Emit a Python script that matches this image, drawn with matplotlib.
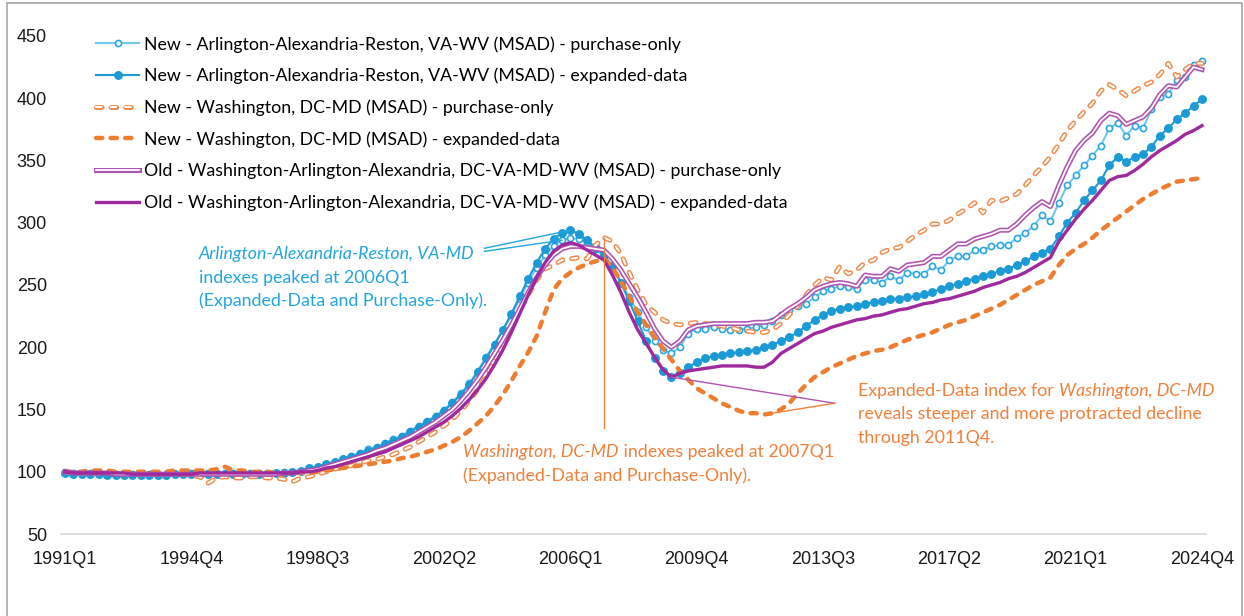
import numpy as np
import matplotlib.pyplot as plt
from matplotlib.lines import Line2D
from matplotlib.patches import Rectangle

plt.rcParams['lines.scale_dashes'] = False

# quarterly index values, 1991Q1 .. 2024Q4
arl_po = [100, 99, 99, 99, 99, 98, 98, 98, 98, 98,
          98, 98, 98, 98, 99, 99, 99, 99, 99, 99,
          99, 99, 99, 99, 99, 99, 100, 100, 101, 103,
          104, 106, 108, 110, 113, 115, 118, 120, 123, 126,
          129, 133, 137, 141, 145, 150, 156, 163, 171, 181,
          192, 203, 214, 226, 239, 252, 264, 274, 281, 286,
          288, 287, 284, 279, 273, 264, 252, 240, 228, 216,
          205, 198, 195, 200, 211, 215, 215, 216, 215, 214,
          214, 215, 216, 218, 221, 226, 230, 233, 235, 240,
          245, 247, 249, 248, 247, 254, 254, 252, 257, 254,
          260, 259, 259, 265, 262, 270, 273, 273, 278, 278,
          281, 282, 282, 288, 292, 297, 306, 301, 316, 330,
          338, 346, 354, 362, 376, 380, 370, 378, 376, 391,
          401, 403, 415, 417, 427, 430]

arl_ed = [99, 98, 98, 98, 98, 97, 97, 97, 97, 97,
          97, 97, 97, 98, 98, 98, 98, 98, 98, 98,
          98, 98, 98, 98, 98, 99, 99, 100, 101, 103,
          104, 106, 108, 110, 112, 114, 117, 119, 122, 125,
          128, 132, 136, 140, 144, 149, 155, 162, 170, 180,
          191, 202, 214, 227, 241, 255, 268, 279, 287, 292,
          294, 291, 286, 280, 274, 265, 252, 237, 221, 205,
          191, 181, 176, 179, 184, 188, 191, 193, 194, 195,
          196, 197, 198, 200, 202, 205, 208, 212, 217, 222,
          226, 229, 231, 232, 233, 235, 236, 237, 239, 239,
          240, 241, 243, 244, 247, 249, 251, 253, 255, 257,
          259, 261, 263, 266, 269, 273, 276, 279, 289, 300,
          308, 318, 326, 334, 346, 353, 349, 353, 355, 361,
          370, 376, 383, 388, 394, 399]

dc_po = [100, 99, 99, 99, 99, 99, 99, 99, 98, 98,
         98, 98, 98, 99, 98, 97, 96, 91, 95, 96,
         95, 95, 96, 96, 95, 95, 94, 92, 95, 96,
         98, 100, 102, 104, 105, 107, 109, 110, 112, 114,
         117, 120, 124, 128, 132, 137, 142, 149, 157, 166,
         177, 189, 202, 216, 230, 242, 254, 263, 266, 270,
         271, 272, 271, 282, 288, 285, 275, 260, 246, 234,
         228, 222, 219, 218, 219, 220, 219, 218, 217, 216,
         214, 213, 212, 212, 214, 219, 226, 233, 242, 250,
         256, 254, 265, 259, 262, 268, 270, 276, 279, 280,
         285, 290, 294, 299, 299, 302, 307, 311, 316, 308,
         318, 317, 320, 323, 330, 338, 345, 353, 363, 374,
         382, 389, 396, 406, 411, 407, 402, 406, 410, 413,
         419, 428, 417, 423, 428, 428]

dc_ed = [100, 100, 100, 101, 101, 101, 100, 100, 100, 100,
         100, 100, 100, 101, 101, 101, 101, 101, 102, 104,
         101, 101, 100, 100, 100, 99, 99, 99, 99, 99,
         100, 101, 102, 103, 104, 105, 106, 107, 108, 109,
         111, 112, 114, 116, 118, 121, 124, 128, 133, 139,
         145, 153, 162, 173, 185, 196, 209, 228, 246, 255,
         260, 264, 267, 269, 271, 264, 253, 241, 228, 218,
         208, 199, 190, 181, 174, 167, 163, 159, 155, 152,
         149, 147, 147, 146, 147, 150, 155, 163, 170, 176,
         180, 184, 187, 190, 193, 195, 197, 198, 200, 203,
         206, 208, 210, 212, 215, 218, 220, 222, 225, 228,
         231, 234, 238, 242, 246, 250, 253, 256, 266, 274,
         279, 283, 288, 294, 299, 304, 309, 314, 319, 323,
         327, 330, 333, 334, 335, 336]

old_po = [100, 99, 99, 99, 99, 99, 98, 98, 98, 98,
          98, 98, 98, 98, 98, 98, 98, 98, 98, 98,
          98, 98, 98, 98, 98, 98, 99, 99, 100, 101,
          102, 104, 106, 108, 110, 112, 114, 117, 119, 122,
          125, 128, 132, 136, 140, 145, 150, 157, 165, 174,
          184, 195, 206, 218, 231, 244, 256, 266, 274, 279,
          281, 281, 280, 279, 278, 271, 262, 251, 240, 228,
          215, 205, 200, 205, 214, 217, 218, 219, 219, 219,
          219, 219, 220, 220, 221, 226, 231, 235, 240, 246,
          249, 251, 252, 251, 249, 258, 257, 257, 263, 261,
          266, 267, 268, 273, 273, 278, 283, 283, 287, 289,
          291, 294, 294, 299, 306, 312, 317, 313, 330, 345,
          358, 366, 372, 382, 388, 386, 379, 382, 385, 392,
          403, 410, 409, 417, 425, 423]

old_ed = [100, 99, 99, 99, 99, 99, 99, 99, 98, 98,
          98, 98, 98, 98, 98, 98, 99, 99, 99, 99,
          99, 99, 99, 99, 99, 99, 99, 99, 100, 100,
          101, 103, 104, 106, 108, 110, 112, 114, 116, 119,
          122, 125, 128, 132, 136, 140, 145, 151, 158, 166,
          175, 186, 198, 212, 227, 242, 256, 268, 277, 282,
          284, 282, 278, 274, 270, 258, 244, 228, 214, 203,
          192, 182, 176, 179, 181, 182, 183, 184, 185, 185,
          185, 185, 184, 184, 188, 195, 199, 203, 207, 211,
          213, 216, 218, 220, 222, 223, 225, 226, 228, 230,
          231, 233, 235, 236, 238, 239, 241, 243, 245, 248,
          250, 252, 255, 257, 260, 264, 268, 272, 285, 294,
          303, 311, 318, 326, 334, 337, 338, 342, 347, 353,
          358, 362, 366, 371, 374, 378]

tick_labels = ['1991Q1', '1994Q4', '1998Q3', '2002Q2', '2006Q1',
               '2009Q4', '2013Q3', '2017Q2', '2021Q1', '2024Q4']

labels = ['New - Arlington-Alexandria-Reston, VA-WV (MSAD) - purchase-only',
          'New - Arlington-Alexandria-Reston, VA-WV (MSAD) - expanded-data',
          'New - Washington, DC-MD (MSAD) - purchase-only',
          'New - Washington, DC-MD (MSAD) - expanded-data',
          'Old - Washington-Arlington-Alexandria, DC-VA-MD-WV (MSAD) - purchase-only',
          'Old - Washington-Arlington-Alexandria, DC-VA-MD-WV (MSAD) - expanded-data']

LIGHTBLUE = '#72C7EE'
BLUE = '#1B9AD6'
ORANGE = '#ED7D31'
ORANGE_LT = '#F08A4B'
PURPLE = '#9E2A9E'
PURPLE_LT = '#B052B0'
TXT_BLUE = '#22A5E0'
TXT_ORANGE = '#F0803A'
FONT = 'Lato'
FS = 12.8

x = np.arange(len(arl_po))

fig = plt.figure(figsize=(12.44, 6.16), dpi=100)
ax = fig.add_axes([0.0489, 0.1331, 0.9207, 0.8085])

# series, in excel order (first at bottom)
l1, = ax.plot(x, arl_po, color=LIGHTBLUE, lw=1.5, marker='o', ms=4.4,
              mfc='white', mec='#2AA7E2', mew=1.2, zorder=2)
l2, = ax.plot(x, arl_ed, color=BLUE, lw=1.5, marker='o', ms=5.4,
              mfc=BLUE, mec=BLUE, zorder=3)
dash_po = (4, 6.5)
l3a, = ax.plot(x, dc_po, color=ORANGE_LT, lw=3.6, dashes=dash_po,
               dash_capstyle='round', zorder=4)
l3b, = ax.plot(x, dc_po, color='white', lw=1.5, dashes=dash_po,
               dash_capstyle='round', zorder=4)
l4, = ax.plot(x, dc_ed, color=ORANGE, lw=3.2, dashes=(4.5, 6),
              dash_capstyle='round', zorder=5)
l5a, = ax.plot(x, old_po, color=PURPLE_LT, lw=3.6, solid_joinstyle='round', zorder=6)
l5b, = ax.plot(x, old_po, color='white', lw=1.3, solid_joinstyle='round', zorder=6)
l6, = ax.plot(x, old_ed, color=PURPLE, lw=2.4, solid_joinstyle='round', zorder=7)

ax.set_xlim(-0.5, len(x) - 0.5)
ax.set_ylim(50, 450)
ax.set_yticks(np.arange(50, 451, 50))
ax.set_xticks(np.arange(0, len(x), 15))
ax.set_xticklabels(tick_labels)
for s in ['top', 'right', 'left']:
    ax.spines[s].set_visible(False)
ax.spines['bottom'].set_color('#D9D9D9')
ax.spines['bottom'].set_linewidth(1.2)
ax.tick_params(length=0, labelsize=13, colors='#1A1A1A')
ax.tick_params(axis='y', pad=10)
ax.tick_params(axis='x', pad=12)
for t in ax.get_xticklabels() + ax.get_yticklabels():
    t.set_fontfamily('Liberation Sans')

# legend
h1 = Line2D([], [], color=LIGHTBLUE, lw=1.5, marker='o', ms=4.4, mfc='white', mec='#2AA7E2', mew=1.2)
h2 = Line2D([], [], color=BLUE, lw=1.5, marker='o', ms=5.4, mfc=BLUE, mec=BLUE)
h3 = (Line2D([], [], color=ORANGE_LT, lw=3.6, dashes=dash_po, dash_capstyle='round'),
      Line2D([], [], color='white', lw=1.5, dashes=dash_po, dash_capstyle='round'))
h4 = Line2D([], [], color=ORANGE, lw=3.2, dashes=(4.5, 6), dash_capstyle='round')
h5 = (Line2D([], [], color=PURPLE_LT, lw=3.6), Line2D([], [], color='white', lw=1.3))
h6 = Line2D([], [], color=PURPLE, lw=2.4)
ax.legend([h1, h2, h3, h4, h5, h6], labels, loc='upper left',
          bbox_to_anchor=(0.031, 1.0), frameon=False, borderpad=0, borderaxespad=0,
          handlelength=2.4, handletextpad=0.3, labelspacing=0.85,
          prop={'family': FONT, 'size': FS})


def rich_line(x0, y0, parts, color):
    t = ax.text(x0, y0, parts[0][0], style=parts[0][1], color=color,
                family=FONT, fontsize=FS, va='center', ha='left', zorder=10)
    for s, st in parts[1:]:
        t = ax.annotate(s, xy=(1, 0), xycoords=t, va='bottom', ha='left',
                        style=st, color=color, family=FONT, fontsize=FS, zorder=10)


# Arlington annotation
rich_line(15.9, 275, [('Arlington-Alexandria-Reston, VA-MD', 'italic')], TXT_BLUE)
rich_line(15.9, 256, [('indexes peaked at 2006Q1', 'normal')], TXT_BLUE)
rich_line(15.9, 237, [('(Expanded-Data and Purchase-Only).', 'normal')], TXT_BLUE)
ax.plot([49.8, 59], [277, arl_po[59]], color=TXT_BLUE, lw=1, zorder=9)
ax.plot([49.8, 60], [279.5, arl_ed[60]], color=TXT_BLUE, lw=1, zorder=9)

# Washington peak annotation
rich_line(47.3, 116, [('Washington, DC-MD', 'italic'),
                      (' indexes peaked at 2007Q1', 'normal')], TXT_ORANGE)
rich_line(47.3, 97, [('(Expanded-Data and Purchase-Only).', 'normal')], TXT_ORANGE)
ax.plot([64, 64], [dc_po[64], 135], color=TXT_ORANGE, lw=1, zorder=9)

# decline annotation
rich_line(94.2, 165, [('Expanded-Data index for ', 'normal'),
                      ('Washington, DC-MD', 'italic')], TXT_ORANGE)
rich_line(94.2, 146, [('reveals steeper and more protracted decline', 'normal')], TXT_ORANGE)
rich_line(94.2, 127, [('through 2011Q4.', 'normal')], TXT_ORANGE)
ax.plot([72, 91.4], [old_ed[72], 155], color=PURPLE_LT, lw=1, zorder=9)
ax.plot([83, 91.4], [dc_ed[83], 155], color=TXT_ORANGE, lw=1, zorder=9)

# outer chart frame
fig.patches.append(Rectangle((7 / 1244, -0.05), 1235 / 1244, 1.05 - 3 / 616,
                             transform=fig.transFigure, fill=False,
                             edgecolor='#A6A6A6', lw=1.2))

fig.savefig('out.png', dpi=100)
